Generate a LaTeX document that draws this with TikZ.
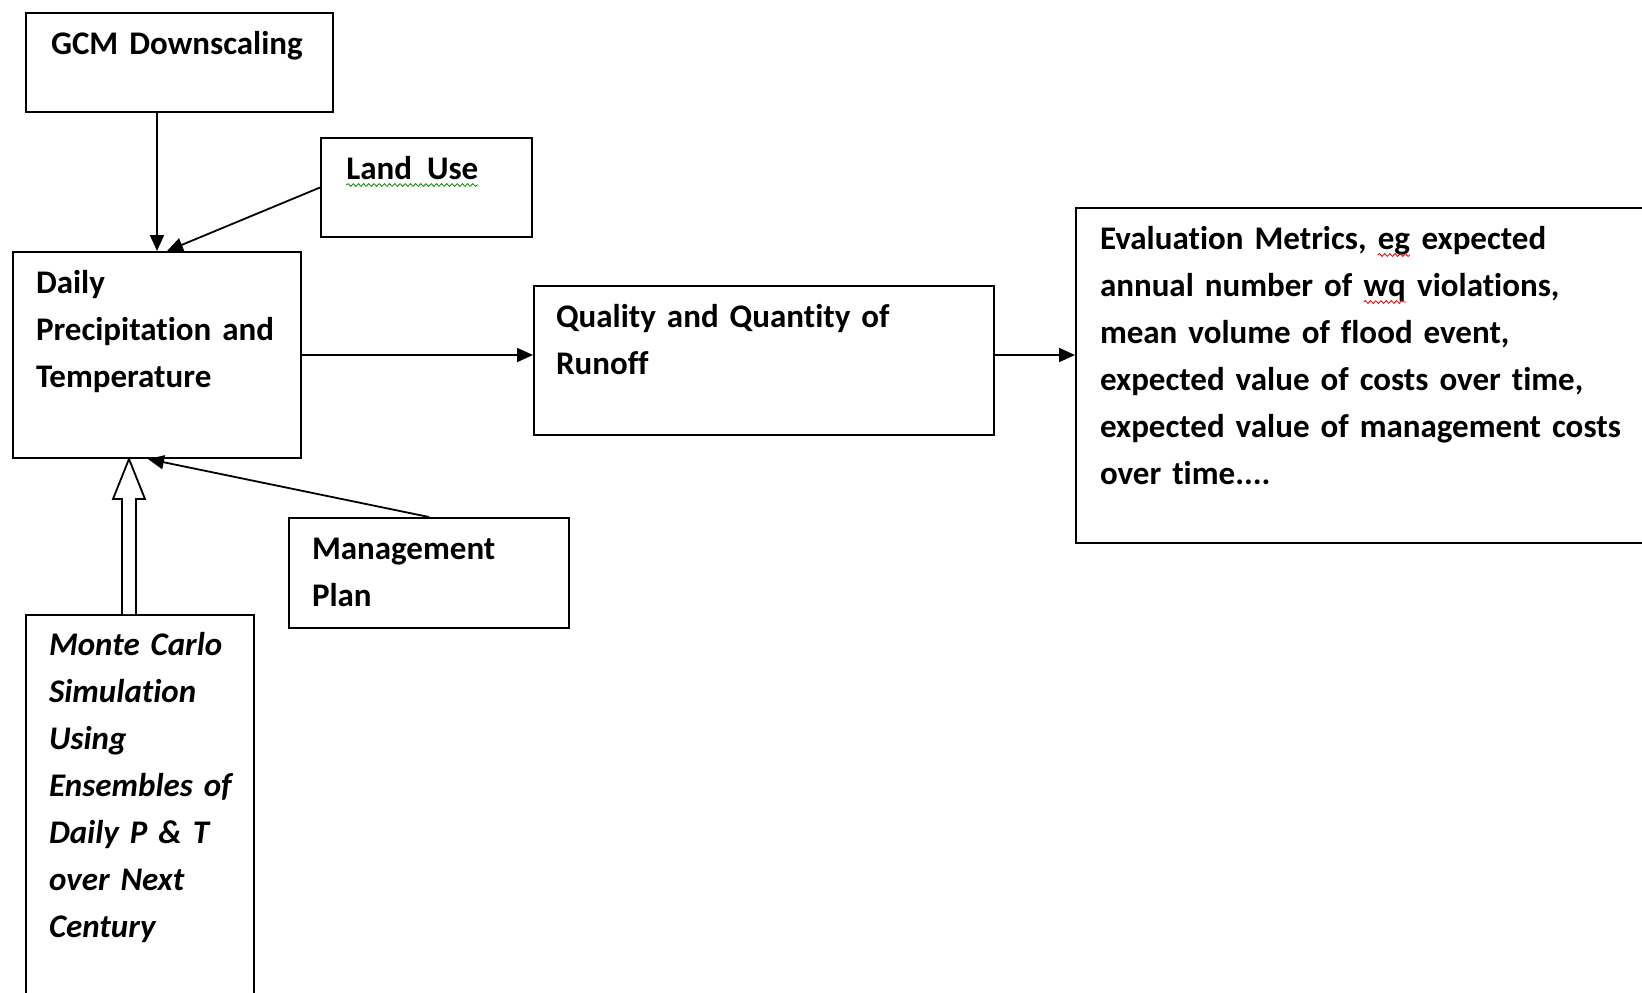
\documentclass[tikz,border=0pt]{standalone}
\usepackage{fontspec}
\setmainfont{Carlito}[RawFeature={-liga;-clig;-dlig;-calt}]
\usetikzlibrary{arrows.meta,calc,decorations.pathmorphing}
\newcommand\spellwave[2]{\tikz[baseline=(w.base)]{\node[inner sep=0pt,outer sep=0pt] (w) {#2};
  \draw[#1,line width=0.4pt,decorate,decoration={snake,amplitude=0.7pt,segment length=2.6pt}]
    ([yshift=-3pt]w.base west) -- ([yshift=-3pt]w.base east);}}
\colorlet{spellred}{red!85!black}
\colorlet{spellgreen}{green!55!black}

\begin{document}
\begin{tikzpicture}[x=0.5pt,y=-0.5pt,
    box/.style={draw,line width=1pt,anchor=north west,align=left,inner ysep=0pt,
      text height=20.5pt,font=\fontsize{16.5pt}{23.5pt}\selectfont\bfseries},
    arr/.style={line width=0.9pt,-{Triangle[length=8pt,width=7pt]}},
    hollow/.style={line width=0.9pt,fill=white}]
    \useasboundingbox (0,0) rectangle (1642,992);
    \clip (0,0) rectangle (1642,992);
    \node[box,inner xsep=12.5pt,text width=128.5pt,text depth=29pt] (gcm) at (25,12) {GCM~Downscaling};
    \node[box,inner xsep=12.5pt,text width=80.5pt,text depth=29pt] (land) at (320,137) {\spellwave{spellgreen}{Land\ \ Use}};
    \node[box,inner xsep=11.5pt,text width=121pt,text depth=82.5pt] (daily) at (12,251) {Daily\\Precipitation~and\\Temperature};
    \node[box,inner xsep=11pt,text width=208pt,text depth=54pt] (quality) at (533,285) {Quality and Quantity of\\Runoff};
    \node[box,inner xsep=12pt,text width=290pt,text depth=147pt] (eval) at (1075,207)
      {Evaluation Metrics, \spellwave{spellred}{eg} expected\\annual number of \spellwave{spellred}{wq} violations,\\mean volume of flood event,\\expected value of costs over time,\\expected value of management costs\\over time....};
    \node[box,inner xsep=11.5pt,text width=117pt,text depth=34.5pt] (mgmt) at (288,517) {Management\\Plan};
    \node[box,inner xsep=11.5pt,text width=91pt,text height=20pt,text depth=190pt,execute at begin node=\itshape] (mc) at (25,614)
      {Monte~Carlo\\Simulation\\Using\\Ensembles~of\\Daily~P~\&~T\\over~Next\\Century};
    \draw[arr] (gcm.south -| daily.north) -- (daily.north);
    \draw[arr] (land.west) -- ([xshift=5pt]daily.north);
    \draw[arr] (daily.east) -- (daily.east -| quality.west);
    \draw[arr] (daily.east -| quality.east) -- (daily.east -| eval.west);
    \draw[arr] (mgmt.north) -- ([xshift=-4.5pt]daily.south);
    \coordinate (mcTop) at ([xshift=-5.5pt]mc.north);
    \coordinate (tip) at (mcTop |- daily.south);
    \draw[hollow] ($(mcTop)+(-3.5pt,0)$) -- ($(tip)+(-3.5pt,-20pt)$) -- ($(tip)+(-8pt,-20pt)$) -- (tip)
      -- ($(tip)+(8pt,-20pt)$) -- ($(tip)+(3.5pt,-20pt)$) -- ($(mcTop)+(3.5pt,0)$);
\end{tikzpicture}
\end{document}
